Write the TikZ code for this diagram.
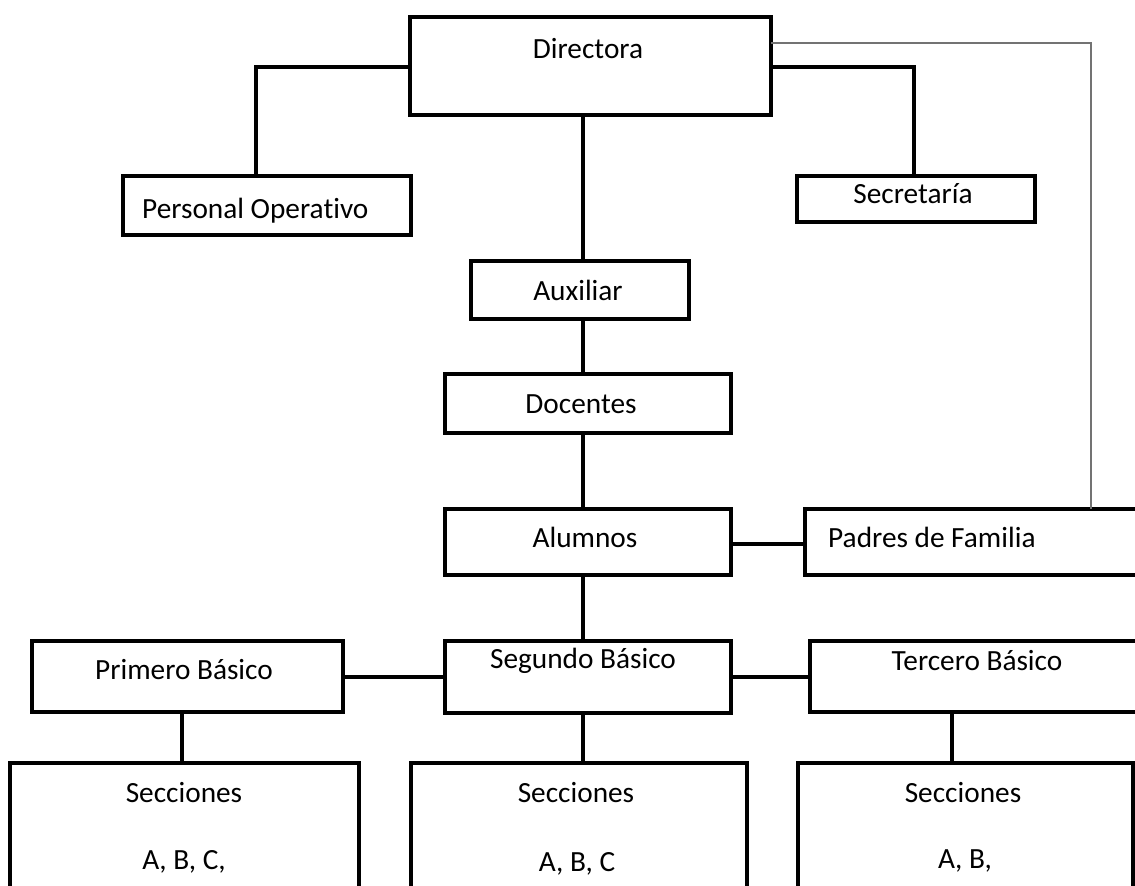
\documentclass[tikz,border=0pt]{standalone}
\usepackage{fontspec}
\setmainfont{Carlito}[RawFeature=-liga]
\begin{document}
\begin{tikzpicture}[x=1pt,y=-1pt,
  box/.style={draw=black, line width=3.4pt, fill=none, inner sep=0pt, outer sep=0pt},
  conn/.style={draw=black, line width=3.2pt},
  thin/.style={draw=black!55, line width=1.4pt},
  txt/.style={anchor=base, inner sep=0pt, font=\fontsize{29.3}{35}\selectfont}]
\useasboundingbox (0,0) rectangle (1135,886);
\clip (0,0) rectangle (1135,886);
% boxes
\node[box, minimum width=361pt, minimum height=98pt] (dir) at (590.5,66) {};
\node[box, minimum width=288pt, minimum height=59pt] (po) at (267,205.5) {};
\node[box, minimum width=238pt, minimum height=46pt] (sec) at (916,199) {};
\node[box, minimum width=218pt, minimum height=58pt] (aux) at (580,290) {};
\node[box, minimum width=286pt, minimum height=59pt] (doc) at (588,403.5) {};
\node[box, minimum width=286pt, minimum height=66pt] (alu) at (588,542) {};
\node[box, minimum width=340pt, minimum height=66pt] (pad) at (975,542) {};
\node[box, minimum width=311pt, minimum height=71pt] (pri) at (187.5,676.5) {};
\node[box, minimum width=286pt, minimum height=72pt] (seg) at (588,677) {};
\node[box, minimum width=335pt, minimum height=71pt] (ter) at (977.5,676.5) {};
\node[box, minimum width=349pt, minimum height=127pt] (s1) at (184.5,826.5) {};
\node[box, minimum width=336pt, minimum height=127pt] (s2) at (579,826.5) {};
\node[box, minimum width=335pt, minimum height=127pt] (s3) at (965.5,826.5) {};
% texts
\node[txt] (tdir) at (588,58) {Directora};
\node[txt, anchor=base west] (tpo) at (142,218) {Personal Operativo};
\node[txt] (tsec) at (913,203) {Secretaría};
\node[txt] (taux) at (578,300) {Auxiliar};
\node[txt] (tdoc) at (581,413) {Docentes};
\node[txt] (talu) at (585,547) {Alumnos};
\node[txt, anchor=base west] (tpad) at (828,547) {Padres de Familia};
\node[txt] (tpri) at (184,679) {Primero Básico};
\node[txt] (tseg) at (583,668) {Segundo Básico};
\node[txt] (tter) at (977,670) {Tercero Básico};
\node[txt] (ts1a) at (184,802) {Secciones};
\node[txt] (ts1b) at (184,869) {A, B, C,};
\node[txt] (ts2a) at (576,802) {Secciones};
\node[txt] (ts2b) at (577,871) {A, B, C};
\node[txt] (ts3a) at (963,802) {Secciones};
\node[txt] (ts3b) at (965,868) {A, B,};
% helper coordinates
\coordinate (spine) at (583,0);
\coordinate (ypo) at (0,67);
\coordinate (xpo) at (256,0);
\coordinate (xsec) at (914,0);
\coordinate (xp1) at (182,0);
\coordinate (xp3) at (952,0);
\coordinate (ygray) at (0,43);
\coordinate (xgray) at (1091,0);
\coordinate (ypad) at (0,544);
\coordinate (yrow) at (0,677);
% connectors
\draw[conn] (dir.west |- ypo) -| (po.north -| xpo);
\draw[conn] (dir.east |- ypo) -| (sec.north -| xsec);
\draw[conn] (dir.south -| spine) -- (aux.north -| spine);
\draw[conn] (aux.south -| spine) -- (doc.north -| spine);
\draw[conn] (doc.south -| spine) -- (alu.north -| spine);
\draw[conn] (alu.south -| spine) -- (seg.north -| spine);
\draw[conn] (seg.south -| spine) -- (s2.north -| spine);
\draw[conn] (alu.east |- ypad) -- (pad.west |- ypad);
\draw[conn] (pri.east |- yrow) -- (seg.west |- yrow);
\draw[conn] (seg.east |- yrow) -- (ter.west |- yrow);
\draw[conn] (pri.south -| xp1) -- (s1.north -| xp1);
\draw[conn] (ter.south -| xp3) -- (s3.north -| xp3);
\draw[thin] (dir.east |- ygray) -| (pad.north -| xgray);
\end{tikzpicture}
\end{document}
